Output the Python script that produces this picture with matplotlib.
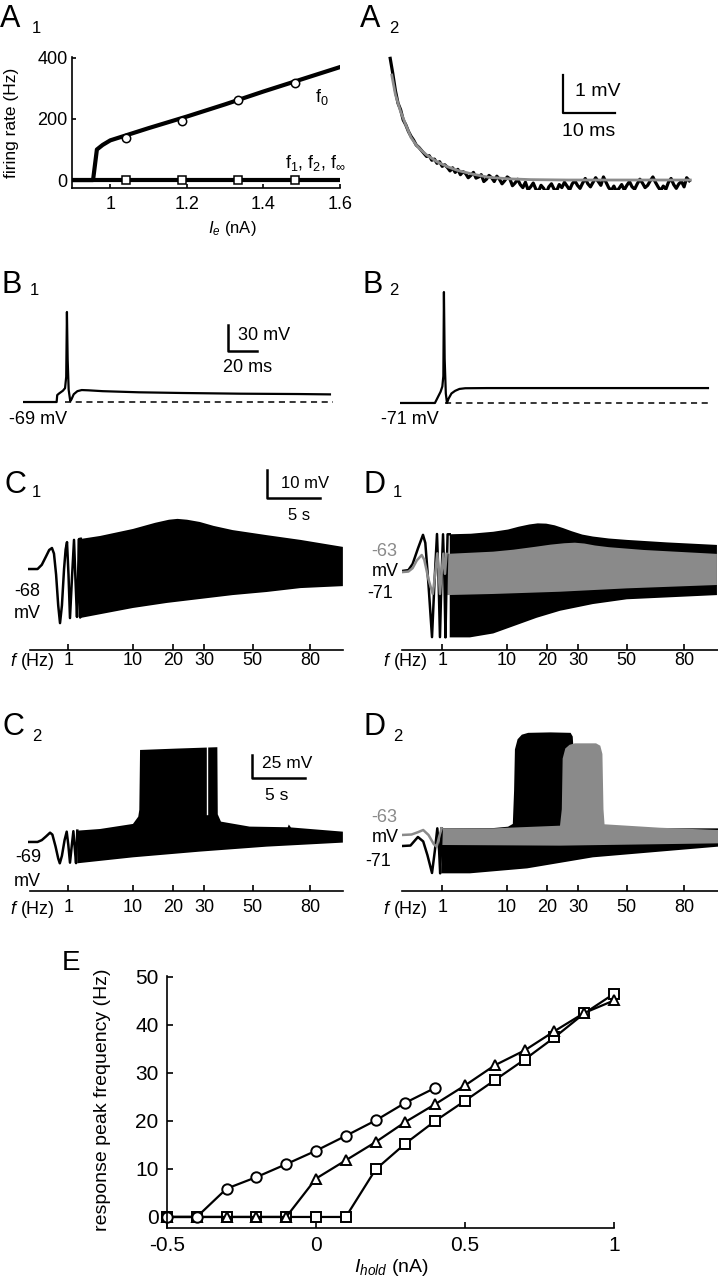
import numpy as np
import matplotlib
matplotlib.use("Agg")
import matplotlib.pyplot as plt

plt.rcParams['font.family'] = ['Liberation Sans', 'DejaVu Sans']
plt.rcParams['mathtext.fontset'] = 'custom'
plt.rcParams['mathtext.rm'] = 'Liberation Sans'
plt.rcParams['mathtext.it'] = 'Liberation Sans:italic'
plt.rcParams['mathtext.default'] = 'regular'
plt.rcParams['axes.unicode_minus'] = False

GRAY = '#8a8a8a'

# ---------------- data ----------------
# A1: firing rate vs injected current
a1_curve_I = [0.90, 0.955, 0.965, 0.98, 1.0, 1.05, 1.1, 1.2, 1.3, 1.4, 1.5, 1.6]
a1_curve_f0 = [0, 0, 100, 115, 130, 150, 170, 208, 248, 290, 330, 370]
a1_zero_I = [0.90, 1.60]
a1_zero_f = [0, 0]
a1_pts_I = [1.041, 1.188, 1.334, 1.482]
a1_pts_f0 = [138, 194, 262, 318]
a1_pts_f1 = [0, 0, 0, 0]
a1_xticks = [1, 1.2, 1.4, 1.6]
a1_xticklabels = ['1', '1.2', '1.4', '1.6']
a1_yticks = [0, 200, 400]

# A2: voltage decay (ms, mV) with fit
a2_t = [1.0 + 0.5 * i for i in range(116)]
a2_v = [3.20, 2.80, 2.35, 2.02, 1.85, 1.58, 1.45, 1.28, 1.15, 1.05, 0.92, 0.86, 0.78, 0.70,
        0.62, 0.64, 0.52, 0.55, 0.44,
        0.48, 0.36, 0.40, 0.33, 0.24, 0.32, 0.20, 0.28, 0.14, 0.22, 0.17, 0.06, 0.12, 0.20,
        0.05, 0.08, 0.14, -0.04, 0.02, 0.12,
        0.06, -0.04, 0.10, 0.02, -0.10, -0.02, 0.08, 0.03, -0.15, -0.08, 0.02, -0.12, -0.20,
        -0.06, -0.26, -0.18, -0.08, -0.24, -0.30, -0.14,
        -0.22, -0.34, -0.18, -0.10, -0.24, -0.28, -0.12, -0.20, -0.06, -0.16, -0.26, -0.10,
        -0.02, -0.14, -0.22, -0.08, 0.04, -0.10, -0.18, -0.06,
        0.06, -0.04, -0.14, 0.08, -0.06, -0.20, -0.28, -0.16, -0.30, -0.22, -0.12, -0.26,
        -0.14, -0.04, -0.18, -0.24, -0.10, 0.02, -0.08, -0.20,
        -0.14, -0.02, 0.08, -0.06, -0.18, -0.28, -0.16, -0.24, -0.06, 0.04, -0.12, -0.22,
        -0.10, -0.04, -0.18, 0.06, -0.02]
a2_fit_t = [1.3, 2, 3, 4, 5, 6, 7, 8, 10, 12, 14, 17, 20, 24, 28, 35, 45, 58.7]
a2_fit_v = [2.76, 2.25, 1.80, 1.45, 1.12, 0.92, 0.78, 0.66, 0.48, 0.35, 0.25, 0.15, 0.07,
            0.03, 0.01, 0, 0, 0]

# B1 / B2: single spike responses (ms, mV)
b1_t = [0, 23.2, 23.6, 25, 27.5, 29.0, 29.8, 30.3, 30.8, 31.5, 32.6, 33.4, 35, 37.5, 40.5,
        45, 55, 80, 110, 150, 190, 211.7]
b1_v = [-69, -69, -61, -59, -56, -53, -40, 34.8, -20, -55, -68, -66, -60, -56.5, -55.2,
        -55.5, -56.5, -57.8, -58.6, -59.4, -59.8, -60.2]
b1_rest = -69
b1_dash_t = [29.0, 213.8]
b2_t = [0, 24.1, 25, 26.5, 28, 29.2, 29.9, 30.3, 30.8, 31.6, 32.4, 33.5, 35.5, 38, 41, 45,
        60, 212.4]
b2_v = [-71, -71, -68, -63, -58, -52, -40, 57, -20, -60, -71, -66, -60, -57, -54.8, -54,
        -53.8, -53.8]
b2_rest = -71
b2_dash_t = [31.0, 213.8]

# ZAP frequency axis (time in s at which each frequency is reached)
f_ticks = [1, 10, 20, 30, 50, 80]
f_tick_times = [3.8, 9.9, 13.7, 16.6, 21.2, 26.6]

# C1 (deflection from rest, mV)
c1_early_t = [0.0, 0.9, 1.3, 1.7, 2.0, 2.26, 2.45, 2.65, 2.85, 3.02, 3.2, 3.4, 3.55, 3.68,
              3.82, 3.96, 4.15, 4.34, 4.48, 4.62, 4.72, 4.81, 4.86, 4.92, 4.98]
c1_early_v = [0, 0, 1.5, 4.5, 6.8, 7.5, 5.5, -2, -13, -19.3, -13, 0, 7, 9.6, -2, -17.5,
              -3, 10.4, -4, -17.1, -3, 10.7, -5, -17.3, 10.8]
c1_up_t = [4.9, 6.8, 9.9, 12.0, 13.3, 14.1, 15.0, 16.2, 17.5, 19.3, 22.5, 25.7, 29.7]
c1_up_v = [10.7, 11.8, 14.3, 16.5, 17.6, 17.9, 17.6, 16.8, 15.4, 13.9, 12.1, 10.4, 7.9]
c1_lo_t = [4.9, 9.9, 13.1, 16.2, 19.3, 22.5, 25.7, 29.7]
c1_lo_v = [-17.5, -13.9, -12.1, -10.7, -9.3, -8.2, -6.8, -6.1]

# D1 (black: -71 mV hold, gray: -63 mV hold)
d1k_early_t = [0, 0.6, 1.0, 1.5, 1.98, 2.2, 2.5, 2.83, 3.05, 3.3, 3.45, 3.58, 3.72, 3.87,
               4.0, 4.1, 4.2, 4.3, 4.5]
d1k_early_v = [0, 0.3, 2.5, 8, 12.9, 10, -5, -23.6, -5, 13.2, -3, -23.6, -3, 13.1, -3,
               -23.7, -3, 13.1, 13.1]
d1k_up_t = [4.5, 6.5, 8.6, 10.0, 11.0, 12.0, 12.8, 13.6, 14.4, 15.2, 16.0, 17.0, 18.0,
            19.5, 21.2, 25, 29.7]
d1k_up_v = [13.1, 13.3, 14.0, 14.8, 15.8, 16.6, 17.0, 16.9, 16.3, 15.3, 14.2, 13.0, 12.3,
            11.6, 11.1, 10.2, 9.3]
d1k_lo_t = [4.5, 6.4, 8.6, 10.8, 12.7, 14.9, 18.0, 21.2, 29.7]
d1k_lo_v = [-23.7, -23.7, -22.3, -19.3, -16.7, -14.2, -11.8, -10.1, -8.6]
d1g_early_t = [0, 0.6, 1.0, 1.4, 1.86, 2.1, 2.5, 2.9, 3.1, 3.33, 3.45, 3.58, 3.75, 3.9,
               4.05, 4.2]
d1g_early_v = [-0.4, -0.2, 1.0, 3.8, 5.7, 4, -3, -8.2, -2, 6.3, 0, -8.2, 0, 6.2, -1, 6.1]
d1g_up_t = [4.2, 8.6, 10.5, 12.5, 14.0, 15.3, 16.3, 17.2, 18.2, 19.5, 22.8, 29.7]
d1g_up_v = [6.1, 6.9, 7.6, 8.6, 9.4, 9.9, 10.1, 9.8, 9.1, 8.5, 7.5, 6.1]
d1g_lo_t = [4.2, 8.6, 14.9, 21.2, 29.7]
d1g_lo_v = [-8.6, -8.2, -7.4, -6.2, -5.0]

# C2
c2_early_t = [0, 0.9, 1.3, 1.7, 2.08, 2.3, 2.6, 2.85, 3.0, 3.2, 3.45, 3.65, 3.8, 3.96,
              4.12, 4.28, 4.42, 4.53, 4.65]
c2_early_v = [0, 0, 2, 6, 10.1, 8, -5, -18, -23.2, -15, 2, 11.2, -3, -22.5, -5, 11.7, -8,
              -23, 12.3]
c2_up_t = [4.65, 6.8, 9.9, 10.4, 10.5, 10.57, 14.0, 17.86, 17.9, 18.2, 20.9, 24.5, 24.6,
           24.8, 29.7]
c2_up_v = [12.3, 14.1, 19.6, 27.5, 35, 100, 101.5, 103, 30, 22.1, 16.7, 16.0, 19, 15.8, 11.2]
c2_lo_t = [4.65, 9.9, 16.2, 22.5, 29.7]
c2_lo_v = [-23.2, -16.7, -10.5, -5.1, -0.7]
c2_gap_t = 16.86

# D2
d2k_early_t = [0, 0.8, 1.5, 2.0, 2.4, 2.83, 3.1, 3.33, 3.5, 3.6, 3.74]
d2k_early_v = [0, 0.5, 9.8, 5, -10, -29.3, -5, 19.2, -5, -29.7, 19.2]
d2k_up_t = [3.74, 8.6, 10.0, 10.45, 10.57, 10.65, 10.9, 11.3, 11.9, 14.0, 15.9, 16.1, 16.2,
            16.3, 29.8]
d2k_up_v = [19.2, 19.5, 21, 24, 60, 105, 116, 121, 123, 123.5, 123, 119, 100, 19.2, 19.2]
d2k_lo_t = [3.74, 6.4, 11.8, 18.0, 29.8]
d2k_lo_v = [-29.7, -29.7, -24.3, -12.3, -0.7]
d2g_early_t = [0, 0.9, 1.5, 2.0, 2.5, 3.0, 3.27, 3.5, 3.74]
d2g_early_v = [12, 12.5, 15, 17.4, 12, 2, -0.7, 10, 19.2]
d2g_up_t = [3.74, 8.6, 14.9, 15.07, 15.15, 15.4, 15.8, 16.3, 18.3, 18.7, 18.9, 19.0, 19.1,
            24.3, 29.8]
d2g_up_v = [19.2, 19.2, 22.1, 40, 95, 106, 110, 111.6, 111.6, 109, 100, 40, 23.6, 19.9, 17.4]
d2g_lo_t = [3.74, 14.9, 29.8]
d2g_lo_v = [1.1, 0.4, 2.9]

# E: response peak frequency vs holding current
e_I = [-0.5, -0.4, -0.3, -0.2, -0.1, 0.0, 0.1, 0.2, 0.3, 0.4, 0.5, 0.6, 0.7, 0.8, 0.9, 1.0]
e_circ_I = e_I[:10]
e_circ = [0, 0, 5.9, 8.3, 11.0, 13.8, 16.9, 20.1, 23.8, 26.9]
e_tri = [0, 0, 0, 0, 0, 8.0, 11.8, 15.6, 19.8, 23.5, 27.4, 31.6, 34.7, 38.7, 42.5, 45.1]
e_sq = [0, 0, 0, 0, 0, 0, 0, 9.9, 15.3, 20.0, 24.2, 28.5, 32.8, 37.4, 42.4, 46.5]
e_xticks = [-0.5, 0, 0.5, 1]
e_xticklabels = ['-0.5', '0', '0.5', '1']
e_yticks = [0, 10, 20, 30, 40, 50]

# ---------------- layout helpers ----------------
W, H = 718, 1280
fig = plt.figure(figsize=(W / 100, H / 100), dpi=100)


def add_ax(l, t, r, b):
    return fig.add_axes([l / W, 1 - b / H, (r - l) / W, (b - t) / H])


def ftext(x, y, s, **kw):
    kw.setdefault('ha', 'center')
    kw.setdefault('va', 'center')
    return fig.text(x / W, 1 - y / H, s, **kw)


def panel_label(x, y, letter, sub, subdx, subdy, size=22):
    ftext(x, y, letter, ha='left', va='baseline', fontsize=size)
    ftext(x + subdx, y + subdy, sub, ha='left', va='baseline', fontsize=12)


def poly(ax, ut, uv, lt, lv, color):
    xs = list(ut) + list(lt)[::-1]
    ys = list(uv) + list(lv)[::-1]
    ax.fill(xs, ys, color=color, lw=0)


def zap_axis(ax, xmax, pad, lo_bound, hi_bound):
    for s in ['left', 'top', 'right']:
        ax.spines[s].set_visible(False)
    ax.spines['bottom'].set_linewidth(1.2)
    ax.spines['bottom'].set_bounds(lo_bound, hi_bound)
    ax.set_yticks([])
    ax.set_xticks(f_tick_times)
    ax.set_xticklabels([str(f) for f in f_ticks])
    ax.tick_params(axis='x', direction='in', length=4, width=1.2, pad=pad, labelsize=13)
    ax.set_xlim(0, xmax)
    ax.patch.set_alpha(0)


# ---------------- A1 ----------------
ax = add_ax(72, 57, 340, 188)
ax.plot(a1_zero_I, a1_zero_f, color='k', lw=3, solid_capstyle='butt')
ax.plot(a1_curve_I, a1_curve_f0, color='k', lw=3, solid_joinstyle='round')
ax.plot(a1_pts_I, a1_pts_f0, 'o', ms=6, mfc='w', mec='k', mew=1.1, zorder=5)
ax.plot(a1_pts_I, a1_pts_f1, 's', ms=6, mfc='w', mec='k', mew=1.1, zorder=5)
ax.set_xlim(0.9, 1.6)
ax.set_ylim(-26, 403)
for s in ['top', 'right']:
    ax.spines[s].set_visible(False)
for s in ['left', 'bottom']:
    ax.spines[s].set_linewidth(1.2)
ax.set_xticks(a1_xticks)
ax.set_xticklabels(a1_xticklabels)
ax.set_yticks(a1_yticks)
ax.tick_params(direction='in', length=3, width=1.2, labelsize=13)
ax.tick_params(axis='x', pad=6)
ax.tick_params(axis='y', pad=3)
ax.text(1.553, 272, 'f$_0$', ha='center', va='center', fontsize=13)
ax.text(1.456, 56, r'f$_1$, f$_2$, f$_\infty$', ha='left', va='center', fontsize=13)
ftext(12, 123, 'firing rate (Hz)', rotation=90, fontsize=12.5)
ftext(232, 229, r'$\mathit{I}_{\mathit{e}}$ (nA)', fontsize=12)
panel_label(0, 27, 'A', '1', 32, 6)

# ---------------- A2 ----------------
ax = add_ax(385, 50, 695, 190)
ax.plot(a2_t, a2_v, color='k', lw=2.3, solid_joinstyle='round')
ax.plot(a2_fit_t, a2_fit_v, color='#8c8c8c', lw=2.0)
ax.plot([34.2, 34.2, 44.2], [2.76, 1.76, 1.76], color='k', lw=1.6)
ax.set_xlim(0, 59.6)
ax.set_ylim(-0.263, 3.42)
ax.axis('off')
ftext(575, 92, '1 mV', ha='left', fontsize=14)
ftext(589, 131, '10 ms', fontsize=14)
panel_label(360, 27, 'A', '2', 29, 6)

# ---------------- B1 ----------------
ax = add_ax(23, 300, 335, 410)
ax.plot(b1_dash_t, [b1_rest, b1_rest], color='k', lw=1.1, dashes=(4, 3))
ax.plot(b1_t, b1_v, color='k', lw=1.6)
ax.plot([141.4, 141.4, 161.4], [19.8, -10.2, -10.2], color='k', lw=1.8)
ax.set_xlim(0, 215.2)
ax.set_ylim(-78.2, 48.6)
ax.axis('off')
ftext(238, 335, '30 mV', ha='left', fontsize=13)
ftext(248, 368, '20 ms', fontsize=13)
ftext(38, 419, '-69 mV', fontsize=13)
panel_label(2, 293, 'B', '1', 28, 2)

# ---------------- B2 ----------------
ax = add_ax(400, 280, 712, 410)
ax.plot(b2_dash_t, [b2_rest, b2_rest], color='k', lw=1.1, dashes=(4, 3))
ax.plot(b2_t, b2_v, color='k', lw=1.6)
ax.set_xlim(0, 215.2)
ax.set_ylim(-79.1, 70.9)
ax.axis('off')
ftext(410, 420, '-71 mV', fontsize=13)
panel_label(362, 293, 'B', '2', 27, 2)

# ---------------- C1 ----------------
ax = add_ax(28, 462, 345, 650)
poly(ax, c1_up_t, c1_up_v, c1_lo_t, c1_lo_v, 'k')
ax.plot(c1_early_t, c1_early_v, color='k', lw=1.8)
ax.plot([22.5, 22.5, 27.5], [35.4, 25.4, 25.4], color='k', lw=1.8)
ax.set_ylim(-28.9, 38.2)
zap_axis(ax, 29.9, 1.5, 0.2, 29.7)
ftext(305, 483, '10 mV', fontsize=12)
ftext(299, 516, '5 s', fontsize=12)
ftext(27, 592, '-68', fontsize=13)
ftext(27, 614, 'mV', fontsize=13)
ftext(55, 662, r'$\mathit{f}$ (Hz)', ha='right', fontsize=13)
panel_label(4, 493, 'C', '1', 28, 4)

# ---------------- D1 ----------------
ax = add_ax(402, 462, 718, 650)
poly(ax, d1k_up_t, d1k_up_v, d1k_lo_t, d1k_lo_v, 'k')
poly(ax, d1g_up_t, d1g_up_v, d1g_lo_t, d1g_lo_v, GRAY)
ax.plot(d1k_early_t, d1k_early_v, color='k', lw=1.8)
ax.plot(d1g_early_t, d1g_early_v, color=GRAY, lw=1.8)
ax.set_ylim(-28.2, 38.9)
zap_axis(ax, 29.8, 1.5, 0.0, 29.8)
ftext(384, 552, '-63', fontsize=13, color=GRAY)
ftext(385, 572, 'mV', fontsize=13)
ftext(380, 594, '-71', fontsize=13)
ftext(428, 662, r'$\mathit{f}$ (Hz)', ha='right', fontsize=13)
panel_label(364, 493, 'D', '1', 29, 4)

# ---------------- C2 ----------------
ax = add_ax(28, 700, 345, 891)
poly(ax, c2_up_t, c2_up_v, c2_lo_t, c2_lo_v, 'k')
ax.plot([c2_gap_t, c2_gap_t], [30, 103], color='w', lw=1.0)
ax.plot(c2_early_t, c2_early_v, color='k', lw=1.8)
ax.plot([21.1, 21.1, 26.1], [94.6, 69.6, 69.6], color='k', lw=1.8)
ax.set_ylim(-53.3, 154.3)
zap_axis(ax, 29.9, 5.5, 0.2, 29.7)
ftext(262, 763, '25 mV', ha='left', fontsize=12.5)
ftext(277, 796, '5 s', fontsize=12.5)
ftext(28, 857, '-69', fontsize=13)
ftext(27, 881, 'mV', fontsize=13)
ftext(55, 909, r'$\mathit{f}$ (Hz)', ha='right', fontsize=13)
panel_label(3, 735, 'C', '2', 29, 6)

# ---------------- D2 ----------------
ax = add_ax(402, 700, 718, 891)
poly(ax, d2k_up_t, d2k_up_v, d2k_lo_t, d2k_lo_v, 'k')
poly(ax, d2g_up_t, d2g_up_v, d2g_lo_t, d2g_lo_v, GRAY)
ax.plot(d2k_early_t, d2k_early_v, color='k', lw=1.8)
ax.plot(d2g_early_t, d2g_early_v, color=GRAY, lw=1.8)
ax.set_ylim(-48.9, 158.7)
zap_axis(ax, 29.8, 5.5, 0.0, 29.8)
ftext(384, 818, '-63', fontsize=13, color=GRAY)
ftext(385, 837, 'mV', fontsize=13)
ftext(378, 861, '-71', fontsize=13)
ftext(428, 909, r'$\mathit{f}$ (Hz)', ha='right', fontsize=13)
panel_label(364, 735, 'D', '2', 29, 6)

# ---------------- E ----------------
ax = add_ax(167, 976, 614, 1228)
mk = dict(ms=7.5, mfc='w', mec='k', mew=1.4, color='k', lw=1.6, clip_on=False)
ax.plot(e_I, e_sq, marker='s', **mk)
ax.plot(e_I, e_tri, marker='^', **mk)
ax.plot(e_circ_I, e_circ, marker='o', **mk)
ax.set_xlim(-0.5, 1.0)
ax.set_ylim(-2.3, 50.2)
for s in ['top', 'right']:
    ax.spines[s].set_visible(False)
for s in ['left', 'bottom']:
    ax.spines[s].set_linewidth(1.2)
ax.set_xticks(e_xticks)
ax.set_xticklabels(e_xticklabels)
ax.set_yticks(e_yticks)
ax.tick_params(direction='in', length=4, width=1.2, labelsize=15)
ax.tick_params(axis='x', pad=6)
ax.tick_params(axis='y', pad=6)
ftext(103, 1100, 'response peak frequency (Hz)', rotation=90, fontsize=14)
ftext(391, 1268, r'$\mathit{I}_{\mathit{hold}}$ (nA)', fontsize=14)
ftext(62, 970, 'E', ha='left', va='baseline', fontsize=20)

fig.savefig('out.png', dpi=100)
